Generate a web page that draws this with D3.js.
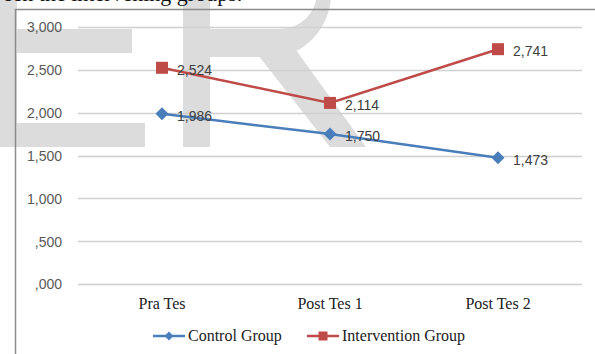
<!DOCTYPE html>
<html><head><meta charset="utf-8">
<script src="https://cdn.jsdelivr.net/npm/d3@7"></script>
<style>html,body{margin:0;padding:0;background:#fff;}svg{display:block;}</style>
</head><body>
<script>
const categories = ["Pra Tes", "Post Tes 1", "Post Tes 2"];
const controlValues = [1.986, 1.750, 1.473];
const interventionValues = [2.524, 2.114, 2.741];
const yTicks = [0, 0.5, 1, 1.5, 2, 2.5, 3];
const seriesNames = ["Control Group", "Intervention Group"];

const W = 595, H = 354;
const svg = d3.select("body").append("svg").attr("width", W).attr("height", H);

// watermark (background)
const wm = svg.append("g").attr("fill", "#dcdcdc");
wm.append("rect").attr("x", 0).attr("y", 0).attr("width", 17).attr("height", 147);
wm.append("rect").attr("x", 17).attr("y", 29).attr("width", 115).attr("height", 24);
wm.append("rect").attr("x", 17).attr("y", 123).attr("width", 128).attr("height", 24);
wm.append("path").attr("fill-rule", "evenodd").attr("d",
  "M183,-70 L280,-70 A65,65 0 0 1 280,57 L210,57 L210,147 L183,147 Z " +
  "M210,-45 L280,-45 A37,37 0 0 1 280,29 L210,29 Z");
wm.append("path").attr("d", "M258,55 L296,50 L366,147 L330,147 Z");

// cut-off caption text at top
svg.append("text").attr("x", -40).attr("y", 1)
  .attr("font-family", "Liberation Serif").attr("font-size", 22).attr("fill", "#111")
  .text("between the intervening groups.");

// frame
svg.append("path").attr("d", "M15.5,354 L15.5,9.5 L595,9.5")
  .attr("fill", "none").attr("stroke", "#8c8c8c").attr("stroke-width", 1.5);

const x = d3.scaleBand().domain(categories).range([78, 582]);
const y = d3.scaleLinear().domain([0, 3]).range([284, 27]);
const fmt = v => { let s = d3.format(".3f")(v).replace(".", ","); return s.startsWith("0,") ? s.slice(1) : s; };

// gridlines
svg.append("g").selectAll("line").data(yTicks).join("line")
  .attr("x1", 78).attr("x2", 582)
  .attr("y1", d => Math.round(y(d)) + 0.5).attr("y2", d => Math.round(y(d)) + 0.5)
  .attr("stroke", "#d0d0d0").attr("stroke-width", 1.5);

// y axis labels
const yAxis = d3.axisLeft(y).tickValues(yTicks).tickFormat(fmt).tickSize(0).tickPadding(0);
const yg = svg.append("g").attr("transform", "translate(62,0)").call(yAxis);
yg.select(".domain").remove();
yg.selectAll("text").attr("font-family", "Liberation Sans").attr("font-size", 14).attr("fill", "#595959").attr("dy", "0.35em");

// x axis labels
const xAxis = d3.axisBottom(x).tickSize(0).tickPadding(0);
const xg = svg.append("g").attr("transform", "translate(0,296)").call(xAxis);
xg.select(".domain").remove();
xg.selectAll("text").attr("font-family", "Liberation Serif").attr("font-size", 16).attr("fill", "#222").attr("dy", "0.8em");

const cx = c => x(c) + x.bandwidth() / 2;
const diamond = r => `M0,${-r}L${r},0L0,${r}L${-r},0Z`;
const square = r => `M${-r},${-r}H${r}V${r}H${-r}Z`;

const series = [
  {name: seriesNames[0], values: controlValues, color: "#4a7ebb", marker: diamond(6.5)},
  {name: seriesNames[1], values: interventionValues, color: "#be4b48", marker: square(6)}
];
const line = d3.line().x((d, i) => cx(categories[i])).y(d => y(d));

series.forEach(s => {
  svg.append("path").datum(s.values).attr("d", line)
    .attr("fill", "none").attr("stroke", s.color).attr("stroke-width", 2.5);
  svg.append("g").selectAll("path").data(s.values).join("path")
    .attr("d", s.marker).attr("fill", s.color)
    .attr("transform", (d, i) => `translate(${cx(categories[i])},${y(d)})`);
  svg.append("g").selectAll("text").data(s.values).join("text")
    .attr("x", (d, i) => cx(categories[i]) + 15).attr("y", d => y(d) + 2)
    .attr("dy", "0.35em")
    .attr("font-family", "Liberation Sans").attr("font-size", 14).attr("fill", "#404040")
    .text(fmt);
});

// legend
const leg = [
  {x1: 153, x2: 185, tx: 188, s: series[0], m: diamond(4.5)},
  {x1: 307, x2: 339, tx: 342, s: series[1], m: square(4.5)}
];
const ly = 336;
leg.forEach(l => {
  svg.append("line").attr("x1", l.x1).attr("x2", l.x2).attr("y1", ly).attr("y2", ly)
    .attr("stroke", l.s.color).attr("stroke-width", 2.5);
  svg.append("path").attr("d", l.m).attr("fill", l.s.color)
    .attr("transform", `translate(${(l.x1 + l.x2) / 2},${ly})`);
  svg.append("text").attr("x", l.tx).attr("y", 341)
    .attr("font-family", "Liberation Serif").attr("font-size", 16).attr("fill", "#222")
    .text(l.s.name);
});
</script>
</body></html>
